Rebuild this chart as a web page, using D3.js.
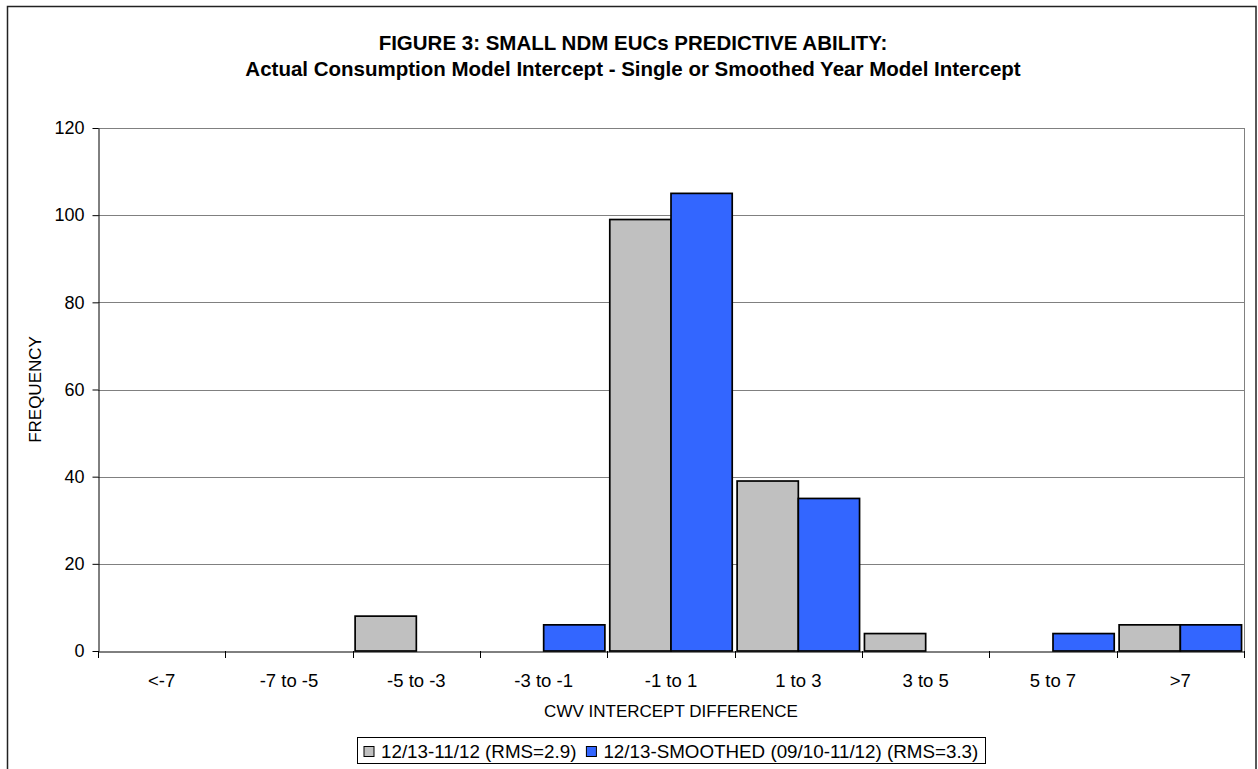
<!DOCTYPE html>
<html>
<head>
<meta charset="utf-8">
<script src="https://cdn.jsdelivr.net/npm/d3@7"></script>
<style>
  html, body { margin: 0; padding: 0; background: #fff; }
  svg { display: block; font-family: "Liberation Sans", Arial, sans-serif; }
</style>
</head>
<body>
<svg id="chart" width="1258" height="769"></svg>
<script>
// Histogram bins of the intercept difference
const categories = ["<-7", "-7 to -5", "-5 to -3", "-3 to -1", "-1 to 1", "1 to 3", "3 to 5", "5 to 7", ">7"];
const seriesNames = ["12/13-11/12 (RMS=2.9)", "12/13-SMOOTHED (09/10-11/12) (RMS=3.3)"];
const singleYear = [0, 0, 8, 0, 99, 39, 4, 0, 6];
const smoothed   = [0, 0, 0, 6, 105, 35, 0, 4, 6];
const yTicks = [0, 20, 40, 60, 80, 100, 120];
const titleLines = [
  "FIGURE 3: SMALL NDM EUCs PREDICTIVE ABILITY:",
  "Actual Consumption Model Intercept - Single or Smoothed Year Model Intercept"
];
const colors = ["#C0C0C0", "#3366FF"];

const svg = d3.select("#chart");
const plot = { left: 98, right: 1244, top: 128, bottom: 651 };

// chart frame
svg.append("rect")
  .attr("x", 7.5).attr("y", 6.5)
  .attr("width", 1256 - 7.5).attr("height", 800)
  .attr("fill", "#fff").attr("stroke", "#222").attr("stroke-width", 1.5);

// title
svg.append("g").selectAll("text").data(titleLines).join("text")
  .attr("x", 633).attr("y", (d, i) => 50 + i * 26)
  .attr("text-anchor", "middle")
  .attr("font-weight", "bold").attr("font-size", 20.5)
  .attr("fill", "#000")
  .text(d => d);

const x = d3.scaleBand().domain(categories).range([plot.left, plot.right]).padding(0);
const xs = d3.scaleBand().domain(seriesNames).range([0, x.bandwidth()]).paddingInner(0).paddingOuter(0.04);
const y = d3.scaleLinear().domain([0, 120]).range([plot.bottom, plot.top]);

// gridlines
svg.append("g").selectAll("line").data(yTicks.filter(t => t > 0)).join("line")
  .attr("x1", plot.left).attr("x2", plot.right)
  .attr("y1", d => Math.round(y(d)) + 0.5).attr("y2", d => Math.round(y(d)) + 0.5)
  .attr("stroke", "#808080").attr("stroke-width", 1);

// plot right border
svg.append("line")
  .attr("x1", plot.right + 0.5).attr("x2", plot.right + 0.5)
  .attr("y1", plot.top).attr("y2", plot.bottom)
  .attr("stroke", "#808080").attr("stroke-width", 1);

// bars
const rows = categories.map((c, i) => ({ cat: c, vals: [singleYear[i], smoothed[i]] }));
svg.append("g").selectAll("g").data(rows).join("g")
  .attr("transform", d => `translate(${x(d.cat)},0)`)
  .selectAll("rect")
  .data(d => d.vals.map((v, j) => ({ s: seriesNames[j], v, j })).filter(b => b.v > 0))
  .join("rect")
  .attr("x", b => xs(b.s))
  .attr("width", xs.bandwidth())
  .attr("y", b => y(b.v))
  .attr("height", b => y(0) - y(b.v))
  .attr("fill", b => colors[b.j])
  .attr("stroke", "#000").attr("stroke-width", 1.7);

// y axis
const yAxis = svg.append("g")
  .attr("transform", `translate(${plot.left + 0.5},0)`)
  .call(d3.axisLeft(y).tickValues(yTicks).tickSize(6).tickPadding(8).tickSizeOuter(0));
yAxis.select(".domain").attr("stroke", "#000");
yAxis.selectAll(".tick line").attr("stroke", "#000");
yAxis.selectAll(".tick text")
  .attr("font-family", "Liberation Sans, Arial, sans-serif")
  .attr("font-size", 18).attr("fill", "#000");

// x axis: ticks on the bin boundaries
const xAxis = svg.append("g")
  .attr("transform", `translate(0,${plot.bottom + 0.5})`)
  .call(d3.axisBottom(x).tickSize(0).tickPadding(22).tickSizeOuter(0));
xAxis.select(".domain").attr("stroke", "#000");
xAxis.selectAll(".tick text")
  .attr("font-family", "Liberation Sans, Arial, sans-serif")
  .attr("font-size", 18.5).attr("fill", "#000");
const boundaries = categories.map(c => x(c)).concat([plot.right]);
svg.append("g").selectAll("line").data(boundaries).join("line")
  .attr("x1", d => Math.round(d) + 0.5).attr("x2", d => Math.round(d) + 0.5)
  .attr("y1", plot.bottom).attr("y2", plot.bottom + 7)
  .attr("stroke", "#000");

// axis titles
svg.append("text")
  .attr("x", (plot.left + plot.right) / 2).attr("y", 717)
  .attr("text-anchor", "middle").attr("font-size", 17).attr("fill", "#000")
  .text("CWV INTERCEPT DIFFERENCE");
svg.append("text")
  .attr("transform", `translate(41,${(plot.top + plot.bottom) / 2}) rotate(-90)`)
  .attr("text-anchor", "middle").attr("font-size", 17).attr("fill", "#000")
  .text("FREQUENCY");

// legend
const legend = svg.append("g");
const legendBox = legend.append("rect")
  .attr("y", 737.5).attr("height", 26)
  .attr("fill", "#fff").attr("stroke", "#000").attr("stroke-width", 1);
const fs = 18.8;
let cx = 0;
const items = legend.append("g");
seriesNames.forEach((name, i) => {
  const g = items.append("g").attr("transform", `translate(${cx},0)`);
  g.append("rect").attr("x", 0).attr("y", 746.5).attr("width", 10).attr("height", 10)
    .attr("fill", colors[i]).attr("stroke", "#000").attr("stroke-width", 1);
  const t = g.append("text").attr("x", 17).attr("y", 757.5)
    .attr("font-size", fs).attr("fill", "#000").text(name);
  cx += 17 + t.node().getComputedTextLength() + 10;
});
const itemsW = cx - 10;
const legendW = itemsW + 14;
const legendX = (plot.left + plot.right) / 2 - legendW / 2;
legendBox.attr("x", Math.round(legendX) + 0.5).attr("width", Math.round(legendW));
items.attr("transform", `translate(${Math.round(legendX) + 7},0)`);
</script>
</body>
</html>
